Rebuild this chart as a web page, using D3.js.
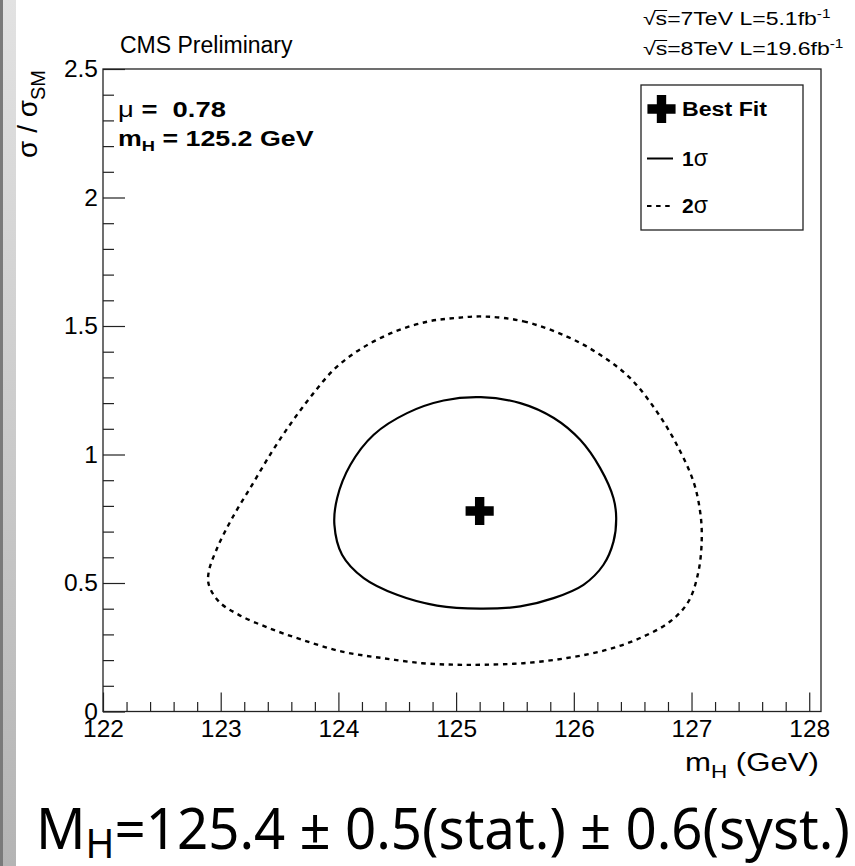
<!DOCTYPE html>
<html><head><meta charset="utf-8">
<script src="https://cdn.jsdelivr.net/npm/d3@7"></script>
<style>
body{margin:0;background:#fff}
svg{display:block}
text{font-family:"Liberation Sans",Arial,Helvetica,sans-serif;fill:#000;white-space:pre}
</style>
</head><body>
<svg id="c" width="855" height="866"></svg>
<script>
// ---------- data ----------
const bestFitMH = 125.2;
const bestFitMu = 0.78;
// 1 sigma contour (clockwise from top)
const sigma1MH = [125.21,125.545,125.83,126.054,126.224,126.337,126.36,126.337,126.252,126.082,125.828,125.545,125.205,124.838,124.498,124.215,124.031,123.966,123.989,124.102,124.30,124.583,124.894];
const sigma1Mu = [1.223,1.200,1.142,1.057,0.947,0.830,0.753,0.661,0.571,0.493,0.441,0.409,0.400,0.412,0.454,0.519,0.610,0.726,0.830,0.960,1.077,1.161,1.210];
// 2 sigma contour (clockwise from top)
const sigma2MH = [125.233,125.573,125.941,126.224,126.479,126.705,126.875,127.016,127.073,127.087,127.059,126.974,126.818,126.564,126.281,125.941,125.573,125.233,124.993,124.71,124.371,124.031,123.692,123.408,123.154,122.984,122.899,122.899,122.970,123.098,123.267,123.437,123.607,123.777,123.974,124.201,124.484,124.767,124.993];
const sigma2Mu = [1.537,1.518,1.459,1.388,1.297,1.167,1.038,0.895,0.778,0.675,0.545,0.428,0.350,0.286,0.240,0.208,0.188,0.182,0.182,0.188,0.208,0.233,0.279,0.325,0.376,0.428,0.493,0.545,0.636,0.753,0.882,1.012,1.128,1.232,1.336,1.414,1.479,1.518,1.531];
const xTickValues = [122,123,124,125,126,127,128];
const xTickLabels = ["122","123","124","125","126","127","128"];
const yTickValues = [0,0.5,1,1.5,2,2.5];
const yTickLabels = ["0","0.5","1","1.5","2","2.5"];
const xMinorStep = 0.2, yMinorStep = 0.1;
const legendLabels = ["Best Fit","1σ","2σ"];

// ---------- setup ----------
const svg = d3.select('#c');
const x = d3.scaleLinear().domain([122,128.1]).range([103,821]);
const y = d3.scaleLinear().domain([0,2.5]).range([711.5,69]);

// left strip
const defs = svg.append('defs');
const gr = defs.append('linearGradient').attr('id','strip').attr('x1',0).attr('y1',0).attr('x2',0).attr('y2',1);
gr.append('stop').attr('offset','0%').attr('stop-color','#e2e2e2');
gr.append('stop').attr('offset','100%').attr('stop-color','#b4b4b4');
svg.append('rect').attr('x',0).attr('y',0).attr('width',16).attr('height',866).attr('fill','url(#strip)');
svg.append('rect').attr('x',0).attr('y',0).attr('width',3).attr('height',866).attr('fill','#7a7a7a');

function fitText(node, x0, x1){
  const b = node.getBBox();
  const sx = (x1-x0)/b.width;
  d3.select(node).attr('transform',`translate(${x0},0) scale(${sx},1) translate(${-b.x},0)`);
}

// ---------- axes ----------
const minorX = d3.range(Math.round((128.1-122)/xMinorStep)+1).map(i=>+(122+i*xMinorStep).toFixed(2)).filter(v=>v<=128.1 && !xTickValues.includes(v));
const minorY = d3.range(Math.round(2.5/yMinorStep)+1).map(i=>+(i*yMinorStep).toFixed(2)).filter(v=>!yTickValues.includes(v));

const axStyle = g => g.attr('color','#222').attr('font-family','"Liberation Sans",Arial,sans-serif').attr('font-size',24.5).call(g=>g.select('.domain').remove()).call(g=>g.selectAll('line').attr('stroke-width',1.2)).call(g=>g.selectAll('text').attr('fill','#000'));

svg.append('g').attr('transform',`translate(0,${y(0)})`)
  .call(d3.axisBottom(x).tickValues(minorX).tickSize(-9.5).tickFormat('')).call(axStyle);
svg.append('g').attr('transform',`translate(0,${y(0)})`)
  .call(d3.axisBottom(x).tickValues(xTickValues).tickSize(-19).tickPadding(8).tickFormat((d,i)=>xTickLabels[i])).call(axStyle);
svg.append('g').attr('transform',`translate(${x(122)},0)`)
  .call(d3.axisLeft(y).tickValues(minorY).tickSize(-11).tickFormat('')).call(axStyle);
svg.append('g').attr('transform',`translate(${x(122)},0)`)
  .call(d3.axisLeft(y).tickValues(yTickValues).tickSize(-22).tickPadding(5).tickFormat((d,i)=>yTickLabels[i])).call(axStyle);

// frame
svg.append('rect').attr('x',x(122)).attr('y',y(2.5)).attr('width',x(128.1)-x(122)).attr('height',y(0)-y(2.5))
  .attr('fill','none').attr('stroke','#222').attr('stroke-width',1.3);

// ---------- contours ----------
const line = d3.line().x(d=>x(d[0])).y(d=>y(d[1])).curve(d3.curveCatmullRomClosed.alpha(0.5));
const c2 = sigma2MH.map((v,i)=>[v,sigma2Mu[i]]);
const c1 = sigma1MH.map((v,i)=>[v,sigma1Mu[i]]);
svg.append('path').attr('d',line(c2)).attr('fill','none').attr('stroke','#000').attr('stroke-width',2.4).attr('stroke-dasharray','4.5,4.6');
svg.append('path').attr('d',line(c1)).attr('fill','none').attr('stroke','#000').attr('stroke-width',2.2);

const cross = d3.symbol(d3.symbolCross, 440);
svg.append('path').attr('d',cross()).attr('transform',`translate(${x(bestFitMH)},${y(bestFitMu)})`).attr('fill','#000');

// ---------- texts ----------
const t1 = svg.append('text').attr('x',120).attr('y',52.5).attr('font-size',23).text('CMS Preliminary');

const tmu = svg.append('text').attr('x',118).attr('y',117).attr('font-size',22).attr('font-weight','bold');
tmu.append('tspan').attr('font-weight','normal').text('μ');
tmu.append('tspan').text(' =  0.78');
fitText(tmu.node(),118,226);

const tmh = svg.append('text').attr('x',118).attr('y',146.5).attr('font-size',22).attr('font-weight','bold');
tmh.append('tspan').text('m');
tmh.append('tspan').attr('font-size',15).attr('dy',5).text('H');
tmh.append('tspan').attr('dy',-5).text(' = 125.2 GeV');
fitText(tmh.node(),118,314);

function energyLine(yb, main, x1){
  const g = svg.append('g');
  const t = g.append('text').attr('x',643).attr('y',yb).attr('font-size',18);
  t.append('tspan').text('√s' + main);
  t.append('tspan').attr('font-size',12).attr('dy',-7).text('-1');
  const e = t.node().getExtentOfChar(1);
  const e0 = t.node().getExtentOfChar(0);
  g.append('line').attr('x1',e0.x+e0.width-1).attr('x2',e.x+e.width).attr('y1',e0.y+1.5).attr('y2',e0.y+1.5).attr('stroke','#000').attr('stroke-width',1);
  fitText(g.node(),643,x1);
}
energyLine(25,'=7TeV L=5.1fb',831);
energyLine(55,'=8TeV L=19.6fb',844);

// y title
const yt = svg.append('text').attr('transform','translate(37,70) rotate(-90)').attr('text-anchor','end').attr('font-size',28);
yt.append('tspan').text('σ / σ');
yt.append('tspan').attr('font-size',20).attr('dy',8).text('SM');

// x title
const xt = svg.append('text').attr('x',685).attr('y',771.5).attr('font-size',25);
xt.append('tspan').text('m');
xt.append('tspan').attr('font-size',18).attr('dy',7).text('H');
xt.append('tspan').attr('dy',-7).text(' (GeV)');
fitText(xt.node(),685,819);

// ---------- legend ----------
svg.append('rect').attr('x',641).attr('y',85).attr('width',162).attr('height',145).attr('fill','#fff').attr('stroke','#222').attr('stroke-width',1.3);
const legY = [109,158.5,206];
svg.append('path').attr('d',cross()).attr('transform',`translate(661.5,${legY[0]})`).attr('fill','#000');
svg.append('line').attr('x1',647).attr('x2',673).attr('y1',legY[1]).attr('y2',legY[1]).attr('stroke','#000').attr('stroke-width',2);
svg.append('line').attr('x1',647).attr('x2',674).attr('y1',legY[2]).attr('y2',legY[2]).attr('stroke','#000').attr('stroke-width',2.2).attr('stroke-dasharray','4.5,4.6');
const lt0 = svg.append('text').attr('x',682).attr('y',116.5).attr('font-size',21).attr('font-weight','bold').text(legendLabels[0]);
fitText(lt0.node(),682,767);
[1,2].forEach(i=>{
  const t = svg.append('text').attr('x',682).attr('y',legY[i]+7.3).attr('font-size',21).attr('font-weight','bold');
  t.append('tspan').text(legendLabels[i][0]);
  t.append('tspan').attr('font-weight','normal').attr('font-size',23).text(legendLabels[i].slice(1));
});

// ---------- bottom formula ----------
const bt = svg.append('text').attr('x',38).attr('y',849).attr('font-size',56).style('font-family','"Noto Sans",sans-serif');
bt.append('tspan').text('M');
bt.append('tspan').attr('font-size',40).attr('dy',9).text('H');
bt.append('tspan').attr('dy',-9).text('=125.4 ± 0.5(stat.) ± 0.6(syst.)');
fitText(bt.node(),36,850);
</script>
</body></html>
